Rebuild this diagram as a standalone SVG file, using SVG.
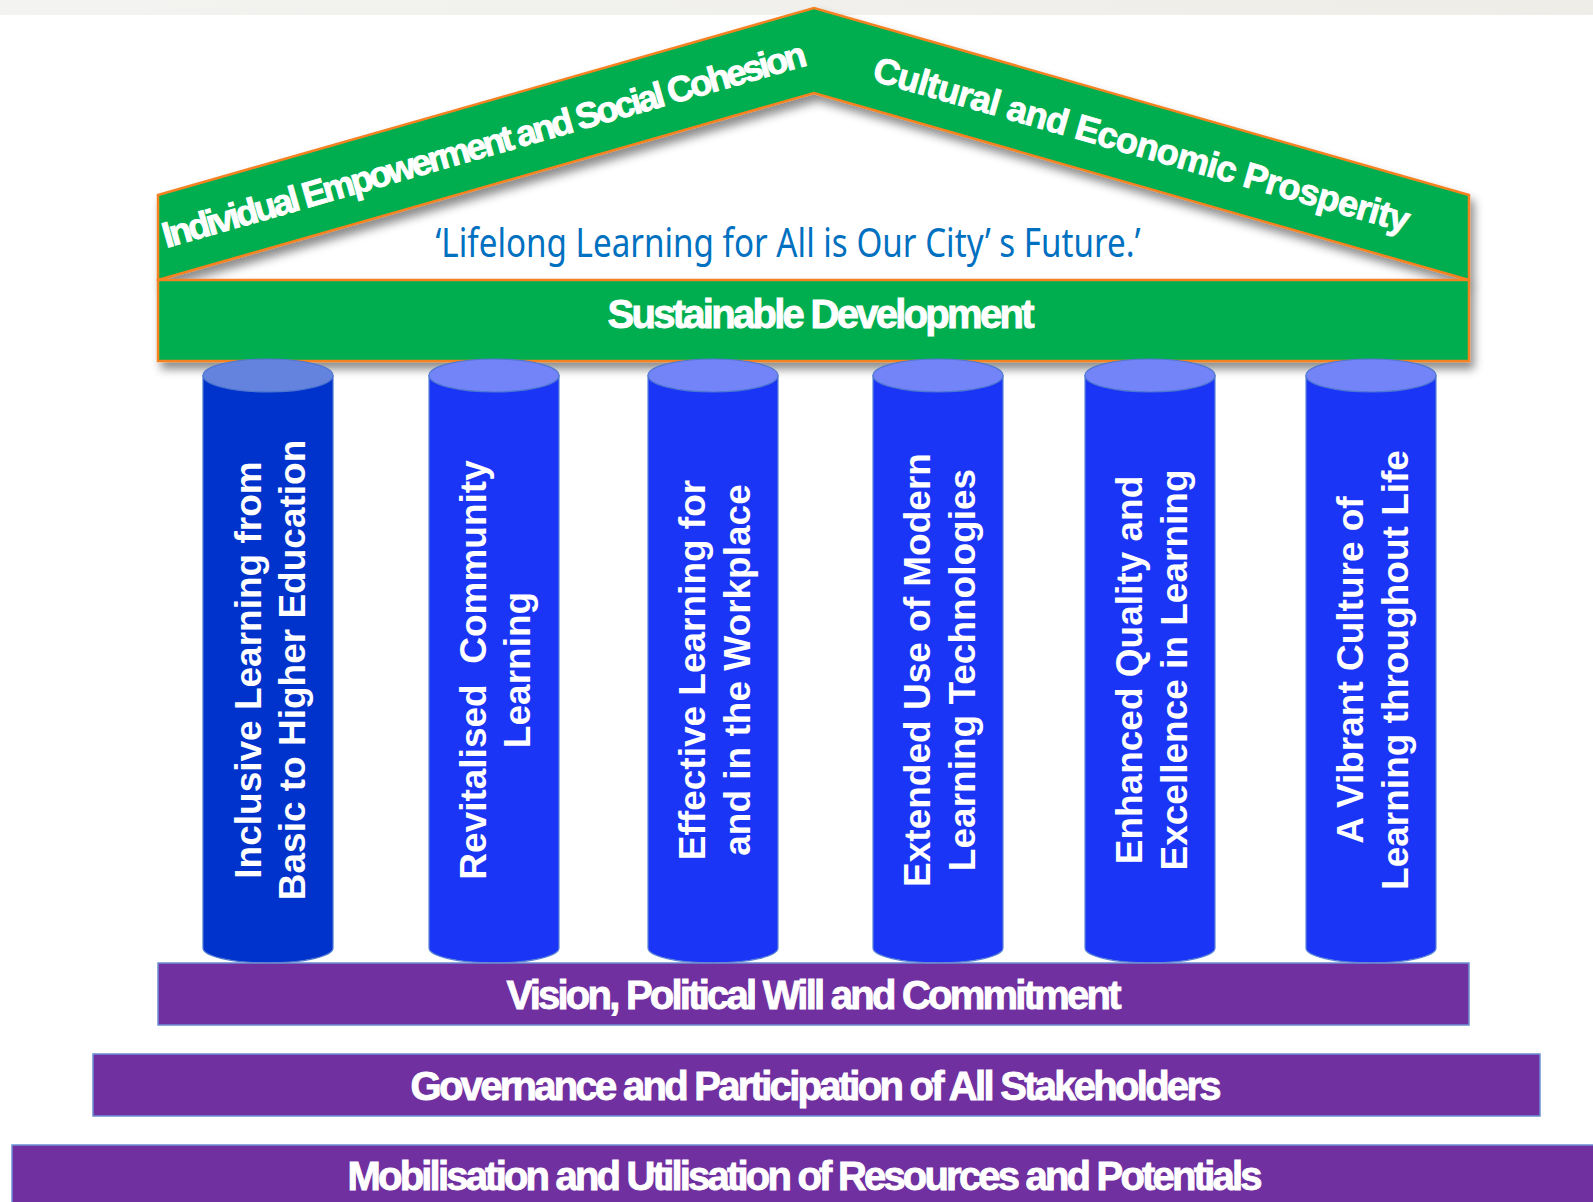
<svg xmlns="http://www.w3.org/2000/svg" width="1593" height="1202" viewBox="0 0 1593 1202">
<style>
.green{fill:#00AE50;stroke:#F58220;stroke-width:2.5}
.purple{fill:#7030A0;stroke:#6C8ED4;stroke-width:1.5}
.hdr{font-family:"Liberation Sans",Arial,sans-serif;font-weight:bold;fill:#fff;stroke:#fff;stroke-width:0.9;text-anchor:middle}
.pil{font-family:"Liberation Sans",Arial,sans-serif;font-weight:bold;font-size:37px;fill:#fff;text-anchor:middle}
.body1{fill:#0032CC;stroke:#4F78D0;stroke-width:1.2}
.top1{fill:#6383DE;stroke:#4F78D0;stroke-width:1.2}
.body{fill:#1A35F6;stroke:#5A84D6;stroke-width:1.2}
.top{fill:#7384F8;stroke:#4F78D0;stroke-width:1.2}
.quote{font-family:"Noto Sans","Liberation Sans",sans-serif;font-size:40px;fill:#0070C0;text-anchor:middle}
</style>
<defs>
<filter id="sh" x="-10%" y="-20%" width="120%" height="150%">
<feDropShadow dx="4" dy="7" stdDeviation="5" flood-color="#000" flood-opacity="0.45"/>
</filter>
<linearGradient id="topband" x1="0" y1="0" x2="1" y2="0">
<stop offset="0" stop-color="#F3F3F1"/>
<stop offset="1" stop-color="#EEEDE8"/>
</linearGradient>
</defs>
<rect x="0" y="0" width="1593" height="1202" fill="#fff"/>
<rect x="0" y="0" width="1593" height="15" fill="url(#topband)"/>

<g id="roof">
<polygon class="green" filter="url(#sh)" points="158,195 814,8 1469,195 1469,280 814,93 158,280"/>
<text class="hdr" font-size="36" textLength="668" lengthAdjust="spacing" transform="translate(484,144) rotate(-15.9)" x="0" y="13">Individual Empowerment and Social Cohesion</text>
<text class="hdr" font-size="36" textLength="556" lengthAdjust="spacing" transform="translate(1142,144) rotate(15.9)" x="0" y="13">Cultural and Economic Prosperity</text>
</g>

<g id="motto">
<text class="quote" x="788" y="257" textLength="705" lengthAdjust="spacingAndGlyphs">‘Lifelong Learning for All is Our City’ s Future.’</text>
</g>

<g id="sustainable-development">
<rect class="green" filter="url(#sh)" x="158" y="280" width="1311" height="81"/>
<text class="hdr" font-size="40" x="821" y="328" textLength="427" lengthAdjust="spacing">Sustainable Development</text>
</g>

<g id="pillar-1">
<path class="body1" d="M203,375.5 L203,948 A65,15 0 0 0 333,948 L333,375.5 Z"/>
<ellipse class="top1" cx="268" cy="375.5" rx="65" ry="16.5"/>
<text class="pil" transform="translate(261,670) rotate(-90)">Inclusive Learning from</text>
<text class="pil" transform="translate(305,670) rotate(-90)">Basic to Higher Education</text>
</g>
<g id="pillar-2">
<path class="body" d="M429,375.5 L429,948 A65,15 0 0 0 559,948 L559,375.5 Z"/>
<ellipse class="top" cx="494" cy="375.5" rx="65" ry="16.5"/>
<text class="pil" xml:space="preserve" transform="translate(486,670) rotate(-90)">Revitalised  Community</text>
<text class="pil" transform="translate(530,670) rotate(-90)">Learning</text>
</g>
<g id="pillar-3">
<path class="body" d="M648,375.5 L648,948 A65,15 0 0 0 778,948 L778,375.5 Z"/>
<ellipse class="top" cx="713" cy="375.5" rx="65" ry="16.5"/>
<text class="pil" transform="translate(705,670) rotate(-90)">Effective Learning for</text>
<text class="pil" transform="translate(750,670) rotate(-90)">and in the Workplace</text>
</g>
<g id="pillar-4">
<path class="body" d="M873,375.5 L873,948 A65,15 0 0 0 1003,948 L1003,375.5 Z"/>
<ellipse class="top" cx="938" cy="375.5" rx="65" ry="16.5"/>
<text class="pil" transform="translate(930,670) rotate(-90)">Extended Use of Modern</text>
<text class="pil" transform="translate(975,670) rotate(-90)">Learning Technologies</text>
</g>
<g id="pillar-5">
<path class="body" d="M1085,375.5 L1085,948 A65,15 0 0 0 1215,948 L1215,375.5 Z"/>
<ellipse class="top" cx="1150" cy="375.5" rx="65" ry="16.5"/>
<text class="pil" transform="translate(1142,670) rotate(-90)">Enhanced Quality and</text>
<text class="pil" transform="translate(1187,670) rotate(-90)">Excellence in Learning</text>
</g>
<g id="pillar-6">
<path class="body" d="M1306,375.5 L1306,948 A65,15 0 0 0 1436,948 L1436,375.5 Z"/>
<ellipse class="top" cx="1371" cy="375.5" rx="65" ry="16.5"/>
<text class="pil" transform="translate(1363,670) rotate(-90)">A Vibrant Culture of</text>
<text class="pil" transform="translate(1408,670) rotate(-90)">Learning throughout Life</text>
</g>

<g id="vision">
<rect class="purple" x="158" y="963" width="1311" height="62"/>
<text class="hdr" font-size="40" x="814" y="1009" textLength="615" lengthAdjust="spacing">Vision, Political Will and Commitment</text>
</g>
<g id="governance">
<rect class="purple" x="93" y="1054" width="1447" height="62"/>
<text class="hdr" font-size="40" x="816" y="1100" textLength="811" lengthAdjust="spacing">Governance and Participation of All Stakeholders</text>
</g>
<g id="mobilisation">
<rect class="purple" x="12" y="1145" width="1590" height="70"/>
<text class="hdr" font-size="40" x="805" y="1190" textLength="915" lengthAdjust="spacing">Mobilisation and Utilisation of Resources and Potentials</text>
</g>
<g id="connectors"/>
</svg>
